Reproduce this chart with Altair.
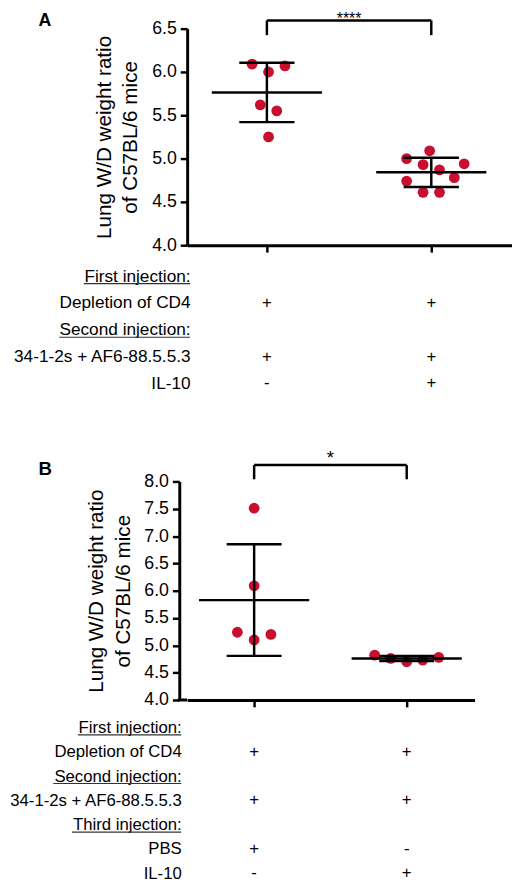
"""Dot plots of lung W/D weight ratio with injection tables (panels A and B)."""

import altair as alt
import pandas as pd

FONT = "Liberation Sans"
RED = "#c8102e"

# Panel A: one value per mouse, group 1 = IL-10 "-", group 2 = IL-10 "+"
a_group = [1, 1, 1, 1, 1, 1, 2, 2, 2, 2, 2, 2, 2, 2, 2]
a_ratio = [6.09, 6.00, 6.07, 5.62, 5.55, 5.25,
           5.09, 5.00, 4.93, 4.87, 4.94, 4.74, 4.78, 4.61, 4.61]
a_jitter = [-0.09, 0.01, 0.11, -0.04, 0.06, 0.01,
            -0.01, -0.15, -0.05, 0.05, 0.20, -0.15, 0.14, -0.05, 0.05]
a_ticks = [4.0, 4.5, 5.0, 5.5, 6.0, 6.5]
a_rows = ["First injection:", "Depletion of CD4", "Second injection:",
          "34-1-2s + AF6-88.5.5.3", "IL-10"]
a_signs_1 = ["", "+", "", "+", "-"]
a_signs_2 = ["", "+", "", "+", "+"]

# Panel B: group 1 = PBS, group 2 = IL-10
b_group = [1, 1, 1, 1, 1, 2, 2, 2, 2, 2]
b_ratio = [7.51, 6.09, 5.24, 5.20, 5.10,
           4.82, 4.76, 4.70, 4.73, 4.78]
b_jitter = [0.0, 0.0, -0.11, 0.11, 0.0,
            -0.21, -0.105, 0.0, 0.105, 0.21]
b_ticks = [4.0, 4.5, 5.0, 5.5, 6.0, 6.5, 7.0, 7.5, 8.0]
b_rows = ["First injection:", "Depletion of CD4", "Second injection:",
          "34-1-2s + AF6-88.5.5.3", "Third injection:", "PBS", "IL-10"]
b_signs_1 = ["", "+", "", "+", "", "+", "-"]
b_signs_2 = ["", "+", "", "+", "", "-", "+"]

Y_TITLE = ["Lung W/D weight ratio", "of C57BL/6 mice"]


def dot_plot(groups, ratios, jitter, ticks, width, height, x_domain,
             mean_half, cap_half, bracket_y, bracket_low, star_y, stars,
             star_size, letter, letter_x, letter_y, letter_size, axis_offset=0):
    """Scatter of single animals with mean and SD bars, plus significance bracket."""
    df = pd.DataFrame({"group": groups, "ratio": ratios, "jitter": jitter})
    y_scale = alt.Scale(domain=[ticks[0], ticks[-1]])
    x_scale = alt.Scale(domain=x_domain)

    def xenc(field):
        return alt.X(field, type="quantitative", scale=x_scale,
                     axis=alt.Axis(values=[1, 2], labels=False, title=None,
                                   grid=False, tickSize=7, tickWidth=2.5,
                                   tickColor="black", domainWidth=3,
                                   domainColor="black"))

    def yenc(field):
        return alt.Y(field, type="quantitative", scale=y_scale,
                     axis=alt.Axis(values=ticks, format=".1f", title=Y_TITLE,
                                   grid=False, tickSize=7, tickWidth=2.5,
                                   tickColor="black", domainWidth=3,
                                   domainColor="black", labelFontSize=18,
                                   labelColor="black", labelPadding=4,
                                   titleFontSize=21, titleFontWeight="normal",
                                   titleColor="black", titleLineHeight=27,
                                   titlePadding=11, offset=axis_offset))

    base = alt.Chart(df)
    dots = (
        base.transform_calculate(xpos="datum.group + datum.jitter")
        .mark_circle(size=120, color=RED, opacity=1)
        .encode(x=xenc("xpos"), y=yenc("ratio"))
    )

    stats = base.transform_aggregate(
        mean="mean(ratio)", sd="stdev(ratio)", groupby=["group"]
    ).transform_calculate(
        lo="datum.mean - datum.sd",
        hi="datum.mean + datum.sd",
        ml=f"datum.group - {mean_half}",
        mr=f"datum.group + {mean_half}",
        cl=f"datum.group - {cap_half}",
        cr=f"datum.group + {cap_half}",
    )
    rule = dict(color="black", strokeWidth=2.5)
    stem = stats.mark_rule(**rule).encode(x=xenc("group"), y=yenc("lo"), y2="hi:Q")
    mean = stats.mark_rule(**rule).encode(x=xenc("ml"), x2="mr:Q", y=yenc("mean"))
    cap_hi = stats.mark_rule(**rule).encode(x=xenc("cl"), x2="cr:Q", y=yenc("hi"))
    cap_lo = stats.mark_rule(**rule).encode(x=xenc("cl"), x2="cr:Q", y=yenc("lo"))

    bracket_df = pd.DataFrame({
        "x": [1, 1, 2], "x2": [2, 1, 2],
        "y": [bracket_y] * 3, "y2": [bracket_y, bracket_low, bracket_low],
    })
    bracket = alt.Chart(bracket_df).mark_rule(color="black", strokeWidth=2.5).encode(
        x=xenc("x"), x2="x2:Q", y=yenc("y"), y2="y2:Q"
    )
    star = alt.Chart(pd.DataFrame({"x": [1.5], "y": [star_y], "t": [stars]})).mark_text(
        fontSize=star_size, baseline="alphabetic", color="black"
    ).encode(x=xenc("x"), y=yenc("y"), text="t:N")

    tag = alt.Chart(pd.DataFrame({"t": [letter]})).mark_text(
        fontSize=letter_size, fontWeight="bold", align="left",
        baseline="alphabetic", color="black"
    ).encode(x=alt.value(letter_x), y=alt.value(letter_y), text="t:N")

    layers = [dots, stem, mean, cap_hi, cap_lo, bracket, star, tag]
    if axis_offset:
        # close the corner between the shifted y axis and the x axis
        corner = alt.Chart(pd.DataFrame({"t": [0]})).mark_rule(
            color="black", strokeWidth=3
        ).encode(x=alt.value(-axis_offset - 1.5), x2=alt.value(0),
                 y=alt.value(height))
        layers.append(corner)
    return alt.layer(*layers).properties(width=width, height=height)


def sign_table(rows, signs_1, signs_2, width, height, x_domain, font_size,
               pad, label_pad, underline):
    """Row labels on the left, +/- under each group."""
    df = pd.DataFrame({
        "row": rows * 2,
        "group": [1] * len(rows) + [2] * len(rows),
        "sign": signs_1 + signs_2,
    })
    y = alt.Y("row:N", sort=rows, scale=alt.Scale(type="point", padding=pad),
              axis=alt.Axis(title=None, domain=False, ticks=False,
                            labelFontSize=font_size, labelColor="black",
                            labelPadding=label_pad, labelLimit=400))
    signs = alt.Chart(df).mark_text(fontSize=17, color="black").encode(
        x=alt.X("group:Q", scale=alt.Scale(domain=x_domain), axis=None),
        y=y,
        text="sign:N",
    )
    layers = [signs]
    for row, left in underline.items():
        layers.append(
            alt.Chart(pd.DataFrame({"row": [row]}))
            .mark_rule(color="#333333", strokeWidth=1.2, yOffset=7.5)
            .encode(y=y, x=alt.value(left - label_pad), x2=alt.value(-label_pad))
        )
    return alt.layer(*layers).properties(width=width, height=height)


a_plot = dot_plot(a_group, a_ratio, a_jitter, a_ticks, 330, 220, [0.515, 2.491],
                  0.335, 0.168, 6.595, 6.425, 6.551, "****", 16,
                  "A", -151, -2.5, 18)
a_table = sign_table(a_rows, a_signs_1, a_signs_2, 330, 136, [0.515, 2.491],
                     17.5, 0.5, -3,
                     {"First injection:": -108, "Second injection:": -133})

b_plot = dot_plot(b_group, b_ratio, b_jitter, b_ticks, 292, 222, [0.561, 2.445],
                  0.361, 0.18, 8.30, 8.04, 8.32, "*", 19,
                  "B", -151, -7, 19, axis_offset=8)
b_table = sign_table(b_rows, b_signs_1, b_signs_2, 292, 158, [0.561, 2.445],
                     17, 0.2, 6,
                     {"First injection:": -105, "Second injection:": -130,
                      "Third injection:": -111})

chart = (
    alt.vconcat(
        alt.vconcat(a_plot, a_table, spacing=9),
        alt.vconcat(b_plot, b_table, spacing=9),
        spacing=53,
    )
    .properties(padding={"top": -4, "bottom": -3, "left": 0, "right": 0})
    .configure(font=FONT)
    .configure_view(strokeWidth=0)
)

chart.save("out.html", embed_options={"renderer": "svg", "actions": False})
